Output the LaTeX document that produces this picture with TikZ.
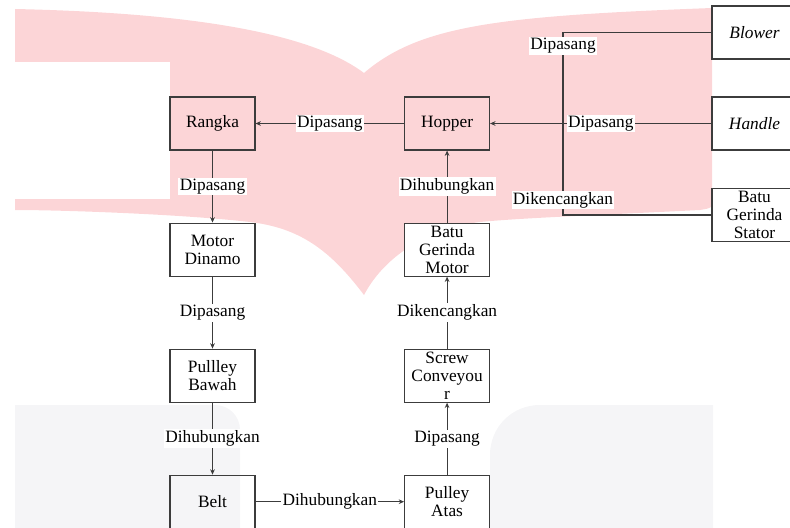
\documentclass[tikz,border=0pt]{standalone}
\usepackage{fontspec}
\setmainfont{Liberation Serif}
\usetikzlibrary{arrows.meta, positioning}
\definecolor{cpink}{HTML}{FCD5D7}
\definecolor{cshade}{HTML}{F5F5F7}
\definecolor{cgrey}{HTML}{3C3C3C}
\tikzset{
  every picture/.style={font=\fontsize{13}{13.5}\selectfont, line width=0.8pt},
  box/.style={draw=cgrey, align=center, inner sep=0pt, minimum width=63.75pt, minimum height=39.75pt},
  arrow/.style={-{Stealth[length=4pt, width=3.5pt]}, draw=cgrey},
  link/.style={draw=cgrey},
  lbl/.style={fill=white, inner sep=1pt},
}

\begin{document}
\begin{tikzpicture}[x=0.75pt, y=-0.75pt, node distance=54pt and 111.4pt]
  \useasboundingbox (0,0) rectangle (790,528);
  % watermark in the back
  \fill[cpink] (15,9) .. controls (150,12) and (300,25) .. (364,73)
    .. controls (420,25) and (500,16) .. (712,8) -- (712,200)
    .. controls (712,208) .. (700,210) .. controls (600,215) and (520,218) .. (480,222)
    .. controls (430,228) and (385,255) .. (364,295)
    .. controls (330,250) and (300,228) .. (250,222)
    .. controls (180,214) and (60,210) .. (15,210) -- cycle;
  \fill[white] (15,62) rectangle (170,199);
  \fill[cshade] (15,528) -- (15,405) -- (215,405) .. controls (229,405) and (240,416) .. (240,430) -- (240,528) -- cycle;
  \fill[cshade] (490,528) -- (490,455) .. controls (490,427) and (512,405) .. (540,405) -- (713,405) -- (713,528) -- cycle;
  % left column
  \node[box] (rangka) at (212.5,123.5) {Rangka};
  \node[box, fill=white, below=of rangka] (motor) {Motor\\Dinamo};
  \node[box, fill=white, below=of motor] (bawah) {Pullley\\Bawah};
  \node[box, below=of bawah] (belt) {Belt};
  % middle column
  \node[box, fill=white, right=of belt] (atas) {Pulley\\Atas};
  \node[box, fill=white, above=of atas] (screw) {Screw\\Conveyou\\r};
  \node[box, fill=white, above=of screw] (batu) {Batu\\Gerinda\\Motor};
  \node[box, above=of batu] (hopper) {Hopper};
  % right column
  \node[box, fill=white] (blower) at (754.5,32.5) {\textit{Blower}};
  \node[box, fill=white] (handle) at (754.5,123.5) {\textit{Handle}};
  \node[box, fill=white] (stator) at (754.5,215) {Batu\\Gerinda\\Stator};
  % connectors
  \draw[arrow] (rangka) -- node[lbl] {Dipasang} (motor);
  \draw[arrow] (motor) -- node[lbl] {Dipasang} (bawah);
  \draw[arrow] (bawah) -- node[lbl] {Dihubungkan} (belt);
  \draw[arrow] (belt) -- node[lbl] {Dihubungkan} (atas);
  \draw[arrow] (atas) -- node[lbl] {Dipasang} (screw);
  \draw[arrow] (screw) -- node[lbl] {Dikencangkan} (batu);
  \draw[arrow] (batu) -- node[lbl] {Dihubungkan} (hopper);
  \draw[arrow] (hopper) -- node[lbl] {Dipasang} (rangka);
  \draw[arrow] (handle) -- node[lbl] {Dipasang} (hopper);
  \coordinate (bustop) at (563,32.5);
  \coordinate (busbot) at (563,215);
  \draw[link] (blower) -- (bustop) -- node[lbl, pos=0.074] {Dipasang} node[lbl, pos=0.918] {Dikencangkan} (busbot) -- (stator);
\end{tikzpicture}
\end{document}
